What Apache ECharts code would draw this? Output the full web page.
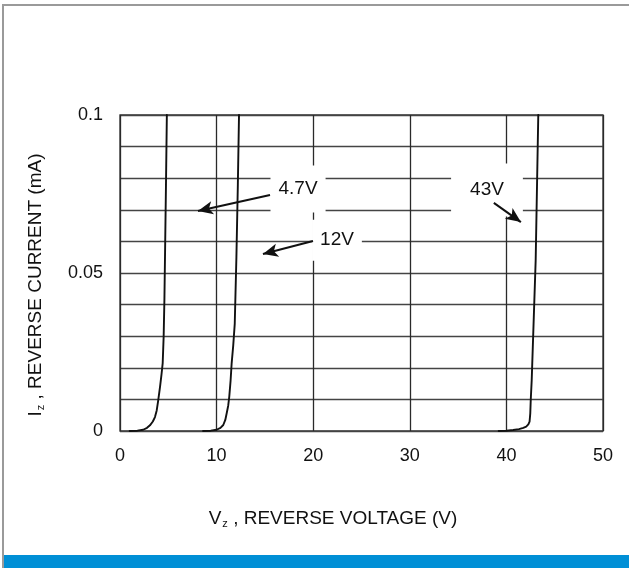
<!DOCTYPE html>
<html><head><meta charset="utf-8">
<script src="https://cdn.jsdelivr.net/npm/echarts@6/dist/echarts.min.js"></script>
<style>html,body{margin:0;padding:0;background:#fff}#c{width:629px;height:568px}</style>
</head><body><div id="c"></div>
<script>
// ---- data ----
const xTicks = [0, 10, 20, 30, 40, 50];
const yTickLabels = [0, 0.05, 0.1];
const curve47 = [[1.0,0],[1.8,0.0001],[2.4,0.0004],[2.8,0.001],[3.1,0.0018],[3.4,0.003],[3.62,0.0044],[3.8,0.0065],[3.96,0.0098],[4.14,0.0139],[4.3,0.018],[4.42,0.0215],[4.52,0.03],[4.6,0.042],[4.68,0.06],[4.76,0.078],[4.85,0.1]];
const curve12 = [[8.6,0],[9.4,0.0001],[10.0,0.0004],[10.4,0.001],[10.69,0.0019],[10.9,0.0035],[11.05,0.0057],[11.2,0.008],[11.31,0.0108],[11.45,0.016],[11.56,0.0215],[11.72,0.027],[11.88,0.034],[12.05,0.055],[12.2,0.078],[12.32,0.1]];
const curve43 = [[39.2,0],[40.0,0.0001],[40.7,0.0003],[41.3,0.0006],[41.75,0.001],[42.05,0.0014],[42.27,0.0021],[42.4,0.003],[42.47,0.0055],[42.52,0.0098],[42.62,0.0161],[43.03,0.054],[43.3,0.1]];
const noteLabels = ['4.7V', '12V', '43V'];
const noteAt = [[18.43, 0.0766], [22.46, 0.0604], [37.99, 0.0763]];
const arrowFrom = [[15.53, 0.0747], [19.98, 0.0601], [38.7, 0.0722]];
const arrowTo = [[8.07, 0.0696], [14.8, 0.0560], [41.5, 0.0661]];

const FONT = '"Liberation Sans", Arial, sans-serif';
const chart = echarts.init(document.getElementById('c'));
const curveSeries = (d) => ({
  type: 'line', data: d, showSymbol: false, smooth: false,
  lineStyle: { color: '#111', width: 1.9, join: 'round', cap: 'round' }, z: 4, silent: true
});
const pads = [[14, 8], [11, 8], [17, 19]];
chart.setOption({
  animation: false,
  grid: { left: 120, top: 115, width: 483, height: 316, show: true, borderColor: '#333', borderWidth: 1.3, backgroundColor: 'transparent' },
  xAxis: {
    type: 'value', min: 0, max: 50, interval: 10,
    axisLine: { show: false }, axisTick: { show: false },
    splitLine: { show: true, lineStyle: { color: '#2a2a2a', width: 1.3 } },
    axisLabel: { margin: 16, fontSize: 18, color: '#111', fontFamily: FONT,
      formatter: v => xTicks.indexOf(v) >= 0 ? String(v) : '' }
  },
  yAxis: {
    type: 'value', min: 0, max: 0.1, interval: 0.01,
    axisLine: { show: false }, axisTick: { show: false },
    splitLine: { show: true, lineStyle: { color: '#444', width: 1.3 } },
    axisLabel: { margin: 17, fontSize: 18, color: '#111', fontFamily: FONT,
      formatter: v => { const m = yTickLabels.find(t => Math.abs(t - v) < 1e-9); return m === undefined ? '' : String(m); } }
  },
  graphic: [
    { type: 'rect', shape: { x: 3, y: 5, width: 700, height: 600 }, style: { fill: 'none', stroke: '#9a9a9a', lineWidth: 2 }, z: 100 },
    { type: 'rect', shape: { x: 4, y: 555, width: 640, height: 20 }, style: { fill: '#008fd6' }, z: 101 },
    { type: 'text', x: 333, y: 519, z: 50,
      style: { text: '{m|V}{s|z}{m| , REVERSE VOLTAGE (V)}', align: 'center', verticalAlign: 'middle', fill: '#111',
        rich: { m: { fontSize: 19, fontFamily: FONT, fill: '#111' }, s: { fontSize: 11, fontFamily: FONT, fill: '#111', padding: [10, 0, 0, 1] } } } },
    { type: 'text', x: 36, y: 285, rotation: Math.PI / 2, z: 50,
      style: { text: '{m|I}{s|z}{m| , REVERSE CURRENT (mA)}', align: 'center', verticalAlign: 'middle', fill: '#111',
        rich: { m: { fontSize: 19, fontFamily: FONT, fill: '#111' }, s: { fontSize: 11, fontFamily: FONT, fill: '#111', padding: [10, 0, 0, 1] } } } }
  ],
  series: [
    curveSeries(curve47), curveSeries(curve12), curveSeries(curve43),
    {
      type: 'scatter', z: 3, symbolSize: 1, itemStyle: { color: 'rgba(0,0,0,0)', opacity: 1 }, silent: true,
      labelLayout: { hideOverlap: false },
      data: noteAt.map((p, i) => ({
        value: p,
        label: { show: true, position: 'inside', formatter: noteLabels[i], fontSize: 19, fontFamily: FONT, color: '#111', opacity: 1,
          backgroundColor: '#fff', padding: pads[i] }
      }))
    },
    {
      type: 'line', data: [], z: 10, silent: true,
      markLine: {
        silent: true, symbol: ['none', 'arrow'], symbolSize: 14, label: { show: false },
        lineStyle: { color: '#111', width: 2, type: 'solid' }, animation: false,
        data: arrowFrom.map((p, i) => [{ coord: p, symbol: 'none' }, { coord: arrowTo[i], symbol: 'arrow', symbolSize: [10, 15] }])
      }
    }
  ]
});
</script></body></html>
